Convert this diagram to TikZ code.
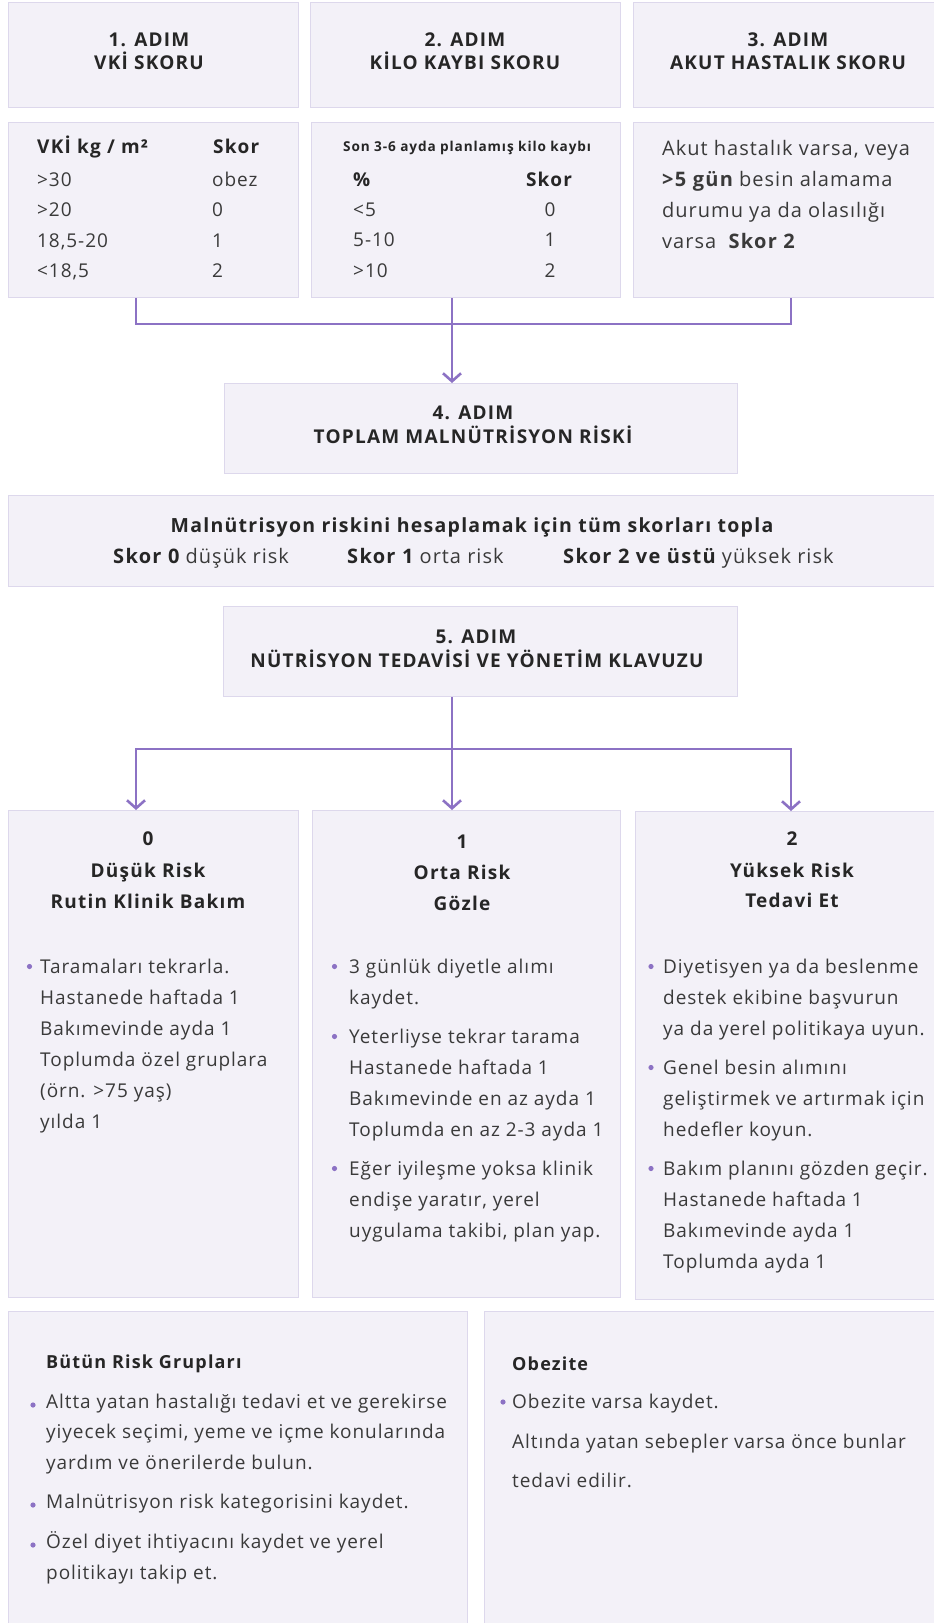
\documentclass[tikz,border=0pt]{standalone}
\usepackage{fontspec}
\setmainfont{Open Sans}[LetterSpace=5, BoldFeatures={LetterSpace=6.5}]
\usetikzlibrary{arrows.meta}

\definecolor{boxfill}{HTML}{F3F1F8}
\definecolor{boxline}{HTML}{DDD8EC}
\definecolor{accent}{HTML}{8C72C4}
\definecolor{ink}{HTML}{262626}
\definecolor{bodyink}{HTML}{3A3A3A}

\newcommand\fsz[2]{\fontsize{#1}{#2}\selectfont}
% panel: name, left, top, width, height
\newcommand\panelbox[5]{\node[panel, minimum width=#4pt, minimum height=#5pt] (#1) at (#2,#3) {};}
% stacked text lines: x, first baseline, step, name, {lines}
\newcommand\textlines[5]{\foreach \ln [count=\k from 0] in {#5} {\node[body] (#4-\k) at (#1,{#2+#3*\k}) {\ln};}}

\begin{document}
\begin{tikzpicture}[x=1pt,y=-1pt,
  panel/.style={draw=boxline, line width=1.2pt, fill=boxfill, anchor=north west, inner sep=0pt},
  conn/.style={draw=accent, line width=2.6pt},
  tip/.style={-{Straight Barb[length=8pt,width=18pt]}},
  head/.style={inner sep=0pt, anchor=base, font=\fsz{19}{23}\bfseries, text=ink},
  bhead/.style={inner sep=0pt, anchor=base west, font=\fsz{18}{22}\bfseries, text=ink},
  body/.style={inner sep=0pt, anchor=base west, font=\fsz{19}{23}, text=bodyink},
  bodyb/.style={body, font=\fsz{19}{23}\bfseries, text=ink},
  dot/.style={fill=accent}
]
\useasboundingbox (0,0) rectangle (934,1623);

% ---- panels ----
\panelbox{h1}{8}{2}{290}{105}
\panelbox{h2}{310}{2}{310}{105}
\panelbox{h3}{633}{2}{311}{105}
\panelbox{c1}{8}{122}{290}{175}
\panelbox{c2}{311}{122}{309}{175}
\panelbox{c3}{633}{122}{311}{175}
\panelbox{s4}{224}{383}{513}{90}
\panelbox{sum}{8}{495}{936}{91}
\panelbox{s5}{223}{606}{514}{90}
\panelbox{r0}{8}{810}{290}{487}
\panelbox{r1}{312}{810}{308}{487}
\panelbox{r2}{635}{811}{309}{488}
\panelbox{bl}{8}{1311}{459}{330}
\panelbox{br}{484}{1311}{460}{330}

% ---- connectors ----
\coordinate (busL) at (136,324);
\coordinate (busM) at (452,324);
\coordinate (busR) at (791,324);
\draw[conn] (c1.south -| busL) -- (busL) -- (busR) -- (c3.south -| busR);
\draw[conn,tip] (c2.south -| busM) -- (s4.north -| busM);

\coordinate (forkL) at (136,749);
\coordinate (forkM) at (452,749);
\coordinate (forkR) at (791,749);
\draw[conn] (s5.south -| forkM) -- (forkM);
\draw[conn, line cap=rect] (forkL) -- (forkR);
\draw[conn,tip] (forkL) -- (r0.north -| forkL);
\draw[conn,tip] (forkM) -- (r1.north -| forkM);
\draw[conn,tip] (forkR) -- (r2.north -| forkR);

% ---- step headers ----
\node[head] (h1a) at (149,46) {1. ADIM};
\node[head] (h1b) at (149,69) {VKİ SKORU};
\node[head] (h2a) at (465,46) {2. ADIM};
\node[head] (h2b) at (465,69) {KİLO KAYBI SKORU};
\node[head] (h3a) at (788,46) {3. ADIM};
\node[head] (h3b) at (788,69) {AKUT HASTALIK SKORU};

% ---- step 1 table ----
\node[bodyb] (c1k) at (37,153) {VKİ kg / m²};
\node[bodyb] (c1s) at (213,153) {Skor};
\textlines{37}{186}{30.5}{c1l}{>30, >20, {18,5-20}, {<18,5}}
\textlines{212}{186}{30.5}{c1r}{obez, 0, 1, 2}

% ---- step 2 table ----
\node[body, font=\fsz{13.6}{16}\bfseries, text=ink] (c2t) at (343,151) {Son 3-6 ayda planlamış kilo kaybı};
\node[bodyb] (c2p) at (353,186) {\%};
\node[bodyb, anchor=base] (c2s) at (549,186) {Skor};
\textlines{353}{216}{30.5}{c2l}{<5, 5-10, >10}
\foreach \v [count=\k from 0] in {0,1,2}
  \node[body, anchor=base] (c2r-\k) at (550,{216+30.5*\k}) {\v};

% ---- step 3 text ----
\begin{scope}[body/.append style={font=\fsz{20}{24}}]
\textlines{662}{155}{31}{c3l}{{Akut hastalık varsa, veya}, {{\bfseries >5 gün} besin alamama}, durumu ya da olasılığı, {varsa\ \ {\bfseries Skor 2}}}
\end{scope}

% ---- step 4 ----
\node[head] (s4a) at (473,419) {4. ADIM};
\node[head] (s4b) at (473,443) {TOPLAM MALNÜTRİSYON RİSKİ};

% ---- summing rule ----
\begin{scope}[body/.append style={font=\fsz{20}{24}}]
\node[head, font=\fsz{19.5}{24}\bfseries] (suma) at (472,532) {Malnütrisyon riskini hesaplamak için tüm skorları topla};
\node[body] (sum0) at (113,563) {{\bfseries\color{ink}Skor 0} düşük risk};
\node[body] (sum1) at (347,563) {{\bfseries\color{ink}Skor 1} orta risk};
\node[body] (sum2) at (563,563) {{\bfseries\color{ink}Skor 2 ve üstü} yüksek risk};
\end{scope}

% ---- step 5 ----
\node[head] (s5a) at (476,643) {5. ADIM};
\node[head] (s5b) at (477,667) {NÜTRİSYON TEDAVİSİ VE YÖNETİM KLAVUZU};

% ---- low risk ----
\node[head] (r0a) at (148,845) {0};
\node[head] (r0b) at (148,877) {Düşük Risk};
\node[head] (r0c) at (148,908) {Rutin Klinik Bakım};
\fill[dot] (29.5,966.5) circle (2.6);
\textlines{40}{973}{31}{r0l}{Taramaları tekrarla., Hastanede haftada 1, Bakımevinde ayda 1, Toplumda özel gruplara, (örn. >75 yaş), yılda 1}

% ---- medium risk ----
\node[head] (r1a) at (462,848) {1};
\node[head] (r1b) at (462,879) {Orta Risk};
\node[head] (r1c) at (462,910) {Gözle};
\fill[dot] (334.5,966.5) circle (2.6);
\fill[dot] (334.5,1036.5) circle (2.6);
\fill[dot] (334.5,1168.5) circle (2.6);
\textlines{349}{973}{31}{r1a}{3 günlük diyetle alımı, kaydet.}
\textlines{349}{1043}{31}{r1b}{Yeterliyse tekrar tarama, Hastanede haftada 1, Bakımevinde en az ayda 1, Toplumda en az 2-3 ayda 1}
\textlines{349}{1175}{31}{r1c}{Eğer iyileşme yoksa klinik, {endişe yaratır, yerel}, {uygulama takibi, plan yap.}}

% ---- high risk ----
\node[head] (r2a) at (792,845) {2};
\node[head] (r2b) at (792,877) {Yüksek Risk};
\node[head] (r2c) at (792,907) {Tedavi Et};
\fill[dot] (651,966.5) circle (2.6);
\fill[dot] (651,1067.5) circle (2.6);
\fill[dot] (651,1168.5) circle (2.6);
\textlines{663}{973}{31}{r2a}{Diyetisyen ya da beslenme, destek ekibine başvurun, ya da yerel politikaya uyun.}
\textlines{663}{1074}{31}{r2b}{Genel besin alımını, geliştirmek ve artırmak için, hedefler koyun.}
\textlines{663}{1175}{31}{r2c}{Bakım planını gözden geçir., Hastanede haftada 1, Bakımevinde ayda 1, Toplumda ayda 1}

% ---- all risk groups ----
\node[bhead] (bla) at (46,1368) {Bütün Risk Grupları};
\fill[dot] (33,1405) circle (2.6);
\fill[dot] (33,1505) circle (2.6);
\fill[dot] (33,1545) circle (2.6);
\textlines{46}{1408}{30.5}{bl1}{Altta yatan hastalığı tedavi et ve gerekirse, {yiyecek seçimi, yeme ve içme konularında}, yardım ve önerilerde bulun.}
\textlines{46}{1508}{30.5}{bl2}{Malnütrisyon risk kategorisini kaydet.}
\textlines{46}{1548}{31}{bl3}{Özel diyet ihtiyacını kaydet ve yerel, politikayı takip et.}

% ---- obesity ----
\node[bhead] (bra) at (512,1370) {Obezite};
\fill[dot] (503,1402) circle (2.6);
\node[body] (br1) at (512,1408) {Obezite varsa kaydet.};
\node[body] (br2) at (512,1448) {Altında yatan sebepler varsa önce bunlar};
\node[body] (br3) at (512,1487) {tedavi edilir.};
\end{tikzpicture}
\end{document}
